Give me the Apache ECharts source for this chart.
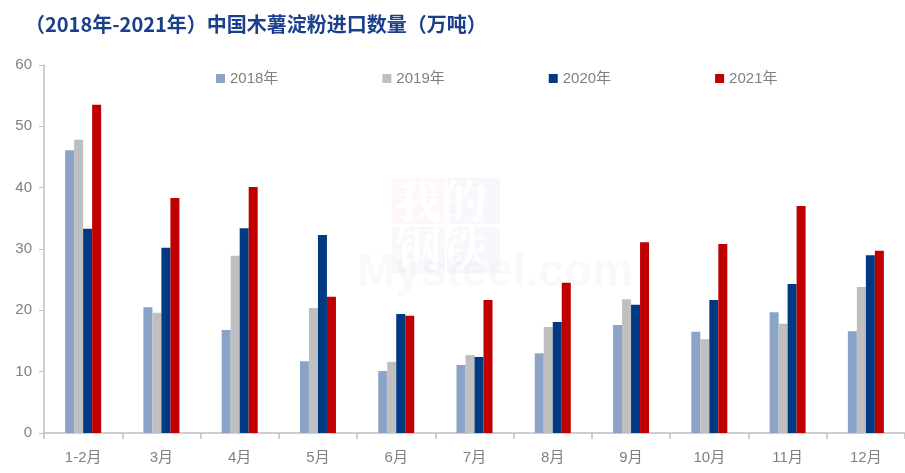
<!DOCTYPE html>
<html><head><meta charset="utf-8">
<script src="https://cdn.jsdelivr.net/npm/echarts@6/dist/echarts.min.js"></script>
<style>html,body{margin:0;padding:0;background:#fff}#c{width:905px;height:473px}</style>
</head><body><div id="c"></div>
<script>
const categories = ['1-2月','3月','4月','5月','6月','7月','8月','9月','10月','11月','12月'];
const s2018 = [46.1,20.5,16.8,11.7,10.1,11.1,13.0,17.6,16.5,19.7,16.6];
const s2019 = [47.8,19.6,28.9,20.4,11.6,12.7,17.3,21.8,15.3,17.8,23.8];
const s2020 = [33.3,30.2,33.4,32.3,19.4,12.4,18.1,20.9,21.7,24.3,29.0];
const s2021 = [53.5,38.3,40.1,22.2,19.1,21.7,24.5,31.1,30.8,37.0,29.7];
const seriesNames = ['2018年','2019年','2020年','2021年'];
const colors = ['#8BA3C7','#BFBFBF','#003A84','#C00000'];
const yTicks = {min:0,max:60,interval:10};

const chart = echarts.init(document.getElementById('c'));
const data = [s2018,s2019,s2020,s2021];
chart.setOption({
  animation:false,
  title:{text:'（2018年-2021年）中国木薯淀粉进口数量（万吨）',left:20,top:9,
    textStyle:{fontSize:20,fontWeight:'bold',color:'#1B3F8B',fontFamily:'Noto Sans CJK SC'}},
  legend:{data:seriesNames,left:211,top:66,itemWidth:9,itemHeight:9,itemGap:104,icon:'rect',
    textStyle:{fontSize:15,color:'#808080',fontFamily:'Liberation Sans, Noto Sans CJK SC'}},
  graphic:[
    {type:'rect',left:392,top:178,shape:{width:53,height:46},style:{fill:'rgba(240,140,140,0.07)'},z:-1},
    {type:'rect',left:447,top:178,shape:{width:53,height:46},style:{fill:'rgba(140,160,210,0.07)'},z:-1},
    {type:'rect',left:392,top:227,shape:{width:53,height:46},style:{fill:'rgba(140,160,210,0.07)'},z:-1},
    {type:'rect',left:447,top:227,shape:{width:53,height:46},style:{fill:'rgba(140,160,210,0.07)'},z:-1},
    {type:'text',left:395,top:178,style:{text:'我的',fontSize:46,fontWeight:'bold',fill:'rgba(255,255,255,0.9)',fontFamily:'Noto Serif CJK SC, Noto Sans CJK SC'},z:-1},
    {type:'text',left:395,top:225,style:{text:'钢铁',fontSize:46,fontWeight:'bold',fill:'rgba(255,255,255,0.9)',fontFamily:'Noto Serif CJK SC, Noto Sans CJK SC'},z:-1},
    {type:'text',left:357,top:250,style:{text:'Mysteel.com',fontSize:46,fontWeight:'bold',fill:'rgba(170,170,170,0.07)',fontFamily:'Liberation Sans'},z:-1}
  ],
  grid:{left:44,right:0,top:65,bottom:40,containLabel:false},
  xAxis:{type:'category',data:categories,
    axisLine:{lineStyle:{color:'#BFBFBF',width:1.5}},
    axisTick:{show:true,length:6,lineStyle:{color:'#BFBFBF',width:1.5}},
    axisLabel:{fontSize:15,color:'#808080',margin:17,fontFamily:'Liberation Sans, Noto Sans CJK SC'}},
  yAxis:{type:'value',min:yTicks.min,max:yTicks.max,interval:yTicks.interval,
    splitLine:{show:false},
    axisLine:{show:true,lineStyle:{color:'#BFBFBF',width:1.5}},
    axisTick:{show:true,length:5,lineStyle:{color:'#BFBFBF'}},
    axisLabel:{fontSize:15,color:'#808080',margin:12,fontFamily:'Liberation Sans'}},
  series:data.map((d,i)=>({name:seriesNames[i],type:'bar',data:d,barWidth:9,barGap:'0%',
    itemStyle:{color:colors[i]}}))
});
</script></body></html>
